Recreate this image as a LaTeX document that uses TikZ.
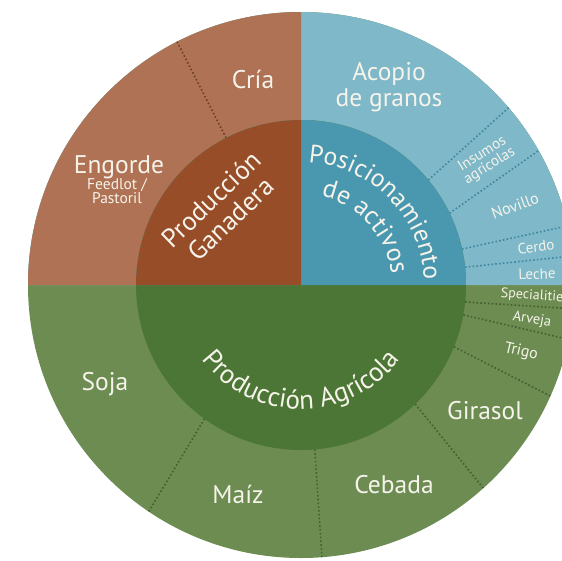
\documentclass[tikz,border=0pt]{standalone}
\usepackage{fontspec}
\setmainfont{PT Sans}
\usetikzlibrary{decorations.text}
\definecolor{brO}{HTML}{AF7254}
\definecolor{brI}{HTML}{984D29}
\definecolor{blO}{HTML}{7EB8C9}
\definecolor{blI}{HTML}{4A98B0}
\definecolor{grO}{HTML}{6C8C52}
\definecolor{grI}{HTML}{4C7636}
\definecolor{brD}{HTML}{6E3E26}
\definecolor{blD}{HTML}{3F86A0}
\definecolor{grD}{HTML}{42602F}
\definecolor{txt}{HTML}{F6F3EA}
\newcommand\ctitle{\fontsize{27}{27}\selectfont\color{txt}}
\newcommand\ptitle{\fontsize{25.5}{26}\selectfont\color{txt}}
\newcommand\dtitle{\fontsize{26}{26}\selectfont\color{txt}}
\tikzset{
  lab/.style={text=txt, font=\fontsize{25.5}{26}\selectfont, align=center, inner sep=0pt},
  sml/.style={text=txt, font=\fontsize{15}{14}\selectfont, align=center, inner sep=0pt},
  divider/.style={line width=1.6pt, dash pattern=on 1.6pt off 2.2pt},
  arctext/.style={decorate, decoration={text along path, text align=center, text={#1}}}
}
\begin{document}
\begin{tikzpicture}[x=1pt,y=1pt]
\useasboundingbox (0,0) rectangle (562,-560);
\clip (0,0) rectangle (562,-560);
\coordinate (C) at (301,-285);
% outer ring
\fill[grO] (C) circle[radius=273];
\fill[blO] ([shift={(C)}]0:273) arc[start angle=0,end angle=180,radius=273] -- cycle;
\fill[brO] (C) -- ([shift={(C)}]90:273) arc[start angle=90,end angle=180,radius=273] -- cycle;
% dividers
\draw[divider,brD] ([shift={(C)}]117:165) -- ([shift={(C)}]117:273);
\draw[divider,blD] ([shift={(C)}]39.5:165) -- ([shift={(C)}]40.5:273);
\draw[divider,blD] ([shift={(C)}]25.8:165) -- ([shift={(C)}]29.5:273);
\draw[divider,blD] ([shift={(C)}]12.6:165) -- ([shift={(C)}]12.5:273);
\draw[divider,blD] ([shift={(C)}]6.2:165) -- ([shift={(C)}]6.1:273);
\draw[divider,grD] ([shift={(C)}]-5.9:165) -- ([shift={(C)}]-5:273);
\draw[divider,grD] ([shift={(C)}]-10.4:165) -- ([shift={(C)}]-11.5:273);
\draw[divider,grD] ([shift={(C)}]-22:165) -- ([shift={(C)}]-24:273);
\draw[divider,grD] ([shift={(C)}]-46.2:165) -- ([shift={(C)}]-48.1:273);
\draw[divider,grD] ([shift={(C)}]-85.2:165) -- ([shift={(C)}]-85.6:273);
\draw[divider,grD] ([shift={(C)}]234.2:165) -- ([shift={(C)}]236.1:273);
% inner disc
\fill[grI] (C) circle[radius=165];
\fill[blI] ([shift={(C)}]0:165) arc[start angle=0,end angle=180,radius=165] -- cycle;
\fill[brI] (C) -- ([shift={(C)}]90:165) arc[start angle=90,end angle=180,radius=165] -- cycle;
% central titles
\node[lab, font=\fontsize{26.5}{28}\selectfont, rotate=44] (ganad) at (221,-209) {Producción\\Ganadera};
\path[arctext={|\ptitle|Posicionamiento}] ([shift={(C)}]90:123) arc[start angle=90,end angle=-1,radius=123];
\path[arctext={|\dtitle|de activos}] ([shift={(C)}]82:91) arc[start angle=82,end angle=2,radius=91];
\path[arctext={|\ctitle|Producción Agrícola}] ([shift={(C)}]195:124) arc[start angle=195,end angle=345,radius=124];
% outer labels
\node[lab] (cria) at (253,-79) {Cría};
\node[lab] (acopio) at (389,-87) {Acopio\\de granos};
\node[lab] (engorde) at (119,-167) {Engorde};
\node[sml, font=\fontsize{15.5}{14}\selectfont] (feed) at (117,-191) {Feedlot /\\Pastoril};
\node[lab] (soja) at (105,-384) {Soja};
\node[lab] (maiz) at (238,-494) {Maíz};
\node[lab] (cebada) at (394,-485) {Cebada};
\node[lab] (girasol) at (485,-411) {Girasol};
\node[sml, font=\fontsize{16}{16}\selectfont, rotate=-13] (trigo) at (521,-352) {Trigo};
\node[sml, font=\fontsize{14.5}{14}\selectfont, rotate=-9] (arveja) at (532,-320) {Arveja};
\node[sml, font=\fontsize{14}{14}\selectfont, rotate=-4] (spec) at (535,-296) {Specialities};
\node[sml, rotate=2] (leche) at (537,-274) {Leche};
\node[sml, rotate=7] (cerdo) at (536,-247) {Cerdo};
\node[sml, font=\fontsize{16}{16}\selectfont, rotate=20] (novillo) at (515,-206) {Novillo};
\node[sml, rotate=32] (insumos) at (486,-160) {Insumos\\agrícolas};
\end{tikzpicture}
\end{document}
